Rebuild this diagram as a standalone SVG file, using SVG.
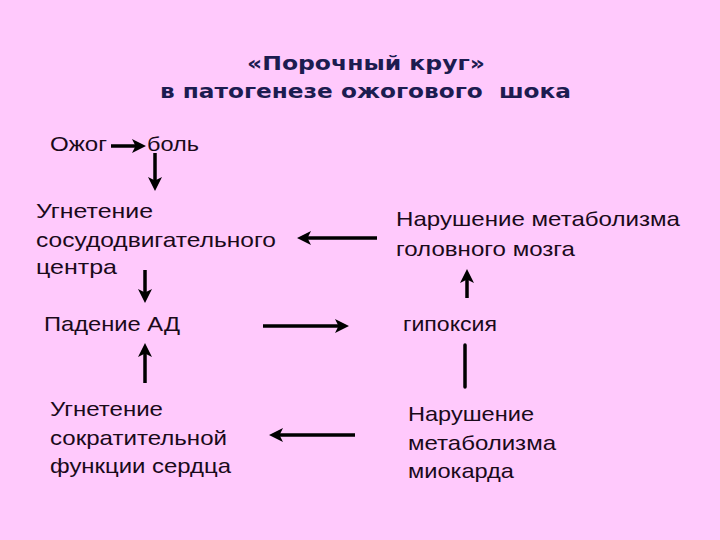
<svg xmlns="http://www.w3.org/2000/svg" width="720" height="540" viewBox="0 0 720 540">
<style>
.t{font-family:"Liberation Sans",Arial,sans-serif;font-size:21px;fill:#1a0a1a}
.h{font-family:"DejaVu Sans","Liberation Sans",sans-serif;font-size:20px;font-weight:bold;fill:#1c1c50}
.c line{stroke:#000;stroke-width:3.5}
</style>
<defs>
<marker id="ah" markerWidth="4" markerHeight="4" refX="2" refY="2" orient="auto" markerUnits="strokeWidth"><path d="M0,0 L4,2 L0,4 L1,2 Z" fill="#000"/></marker>
</defs>
<rect width="720" height="540" fill="#FFC9FC"/>
<g id="title">
<text class="h" x="247" y="70" textLength="238" lengthAdjust="spacingAndGlyphs">«Порочный круг»</text>
<text class="h" x="160" y="98" textLength="411" lengthAdjust="spacingAndGlyphs" xml:space="preserve">в патогенезе ожогового  шока</text>
</g>
<g id="n-ozhog"><text class="t" x="50" y="151" textLength="57" lengthAdjust="spacingAndGlyphs">Ожог</text></g>
<g id="n-bol"><text class="t" x="147" y="151" textLength="52" lengthAdjust="spacingAndGlyphs">боль</text></g>
<g id="n-ugnet-sosud"><text class="t" x="36" y="218" textLength="117" lengthAdjust="spacingAndGlyphs">Угнетение</text><text class="t" x="36" y="247" textLength="240" lengthAdjust="spacingAndGlyphs">сосудодвигательного</text><text class="t" x="36" y="274" textLength="81" lengthAdjust="spacingAndGlyphs">центра</text></g>
<g id="n-narush-mozg"><text class="t" x="396" y="226" textLength="284" lengthAdjust="spacingAndGlyphs">Нарушение метаболизма</text><text class="t" x="396" y="256" textLength="179" lengthAdjust="spacingAndGlyphs">головного мозга</text></g>
<g id="n-padenie"><text class="t" x="44" y="331" textLength="136" lengthAdjust="spacingAndGlyphs">Падение АД</text></g>
<g id="n-gipoksia"><text class="t" x="403" y="331" textLength="94" lengthAdjust="spacingAndGlyphs">гипоксия</text></g>
<g id="n-ugnet-serd"><text class="t" x="50" y="416" textLength="113" lengthAdjust="spacingAndGlyphs">Угнетение</text><text class="t" x="50" y="445" textLength="177" lengthAdjust="spacingAndGlyphs">сократительной</text><text class="t" x="50" y="473" textLength="181" lengthAdjust="spacingAndGlyphs">функции сердца</text></g>
<g id="n-narush-miok"><text class="t" x="408" y="421" textLength="126" lengthAdjust="spacingAndGlyphs">Нарушение</text><text class="t" x="408" y="450" textLength="148" lengthAdjust="spacingAndGlyphs">метаболизма</text><text class="t" x="408" y="478" textLength="106" lengthAdjust="spacingAndGlyphs">миокарда</text></g>
<g id="connectors" class="c">
<line x1="111" y1="146" x2="139" y2="146" marker-end="url(#ah)"/>
<line x1="155" y1="153" x2="155" y2="184" marker-end="url(#ah)"/>
<line x1="377" y1="238" x2="304" y2="238" marker-end="url(#ah)"/>
<line x1="467" y1="298" x2="467" y2="276" marker-end="url(#ah)"/>
<line x1="145" y1="270" x2="145" y2="296" marker-end="url(#ah)"/>
<line x1="263" y1="326" x2="342" y2="326" marker-end="url(#ah)"/>
<line x1="145" y1="383" x2="145" y2="350" marker-end="url(#ah)"/>
<line x1="465" y1="345" x2="465" y2="387" stroke-linecap="round"/>
<line x1="355" y1="435" x2="276" y2="435" marker-end="url(#ah)"/>
</g>
</svg>
